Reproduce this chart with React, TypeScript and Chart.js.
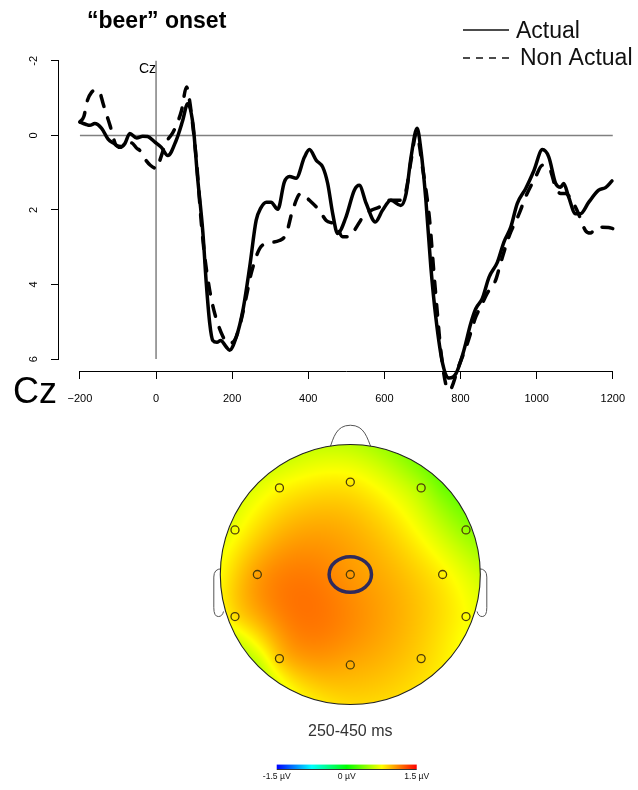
import React, { useEffect, useRef } from 'react';
import { Chart, registerables } from 'chart.js';

Chart.register(...registerables);
Chart.defaults.font.family = '"Liberation Sans", Arial, Helvetica, sans-serif';

// ---------------- ERP waveform data ----------------
const TITLE = '\u201cbeer\u201d onset';
const CHANNEL = 'Cz';
const SERIES_NAMES = ['Actual', 'Non Actual'];

const TIME_ACTUAL = [-200, -185, -174, -161, -143, -126, -110, -95, -82, -69, -51, -35, -22, -3, 14, 31, 53, 70, 83, 97, 109, 123, 132, 141, 149, 160, 170, 184, 193, 211, 228, 246, 263, 275, 290, 302, 320, 337, 351, 368, 390, 403, 421, 438, 451, 464, 477, 499, 521, 534, 552, 576, 595, 617, 643, 657, 670, 686, 696, 709, 722, 735, 753, 770, 788, 809, 827, 840, 857, 875, 897, 914, 932, 949, 971, 993, 1015, 1032, 1050, 1063, 1071, 1084, 1102, 1115, 1137, 1163, 1181, 1198];
const UV_ACTUAL = [-0.36, -0.3, -0.27, -0.32, -0.19, 0.1, 0.22, 0.32, 0.22, -0.05, 0.07, 0.02, 0.03, 0.18, 0.32, 0.54, 0.13, -0.4, -0.85, -0.3, 1.12, 2.6, 3.97, 5.04, 5.5, 5.55, 5.5, 5.67, 5.76, 5.4, 4.7, 3.53, 2.28, 1.95, 1.79, 1.79, 1.98, 1.25, 1.1, 1.15, 0.58, 0.38, 0.67, 0.85, 1.29, 2.09, 2.63, 2.19, 1.47, 1.34, 1.82, 2.32, 2.01, 1.74, 1.88, 1.56, 0.58, -0.19, 0.4, 1.74, 3.53, 4.87, 6.12, 6.51, 6.39, 5.76, 5.04, 4.65, 4.38, 3.8, 3.4, 2.86, 2.46, 1.83, 1.43, 0.94, 0.38, 0.58, 1.29, 1.39, 1.29, 1.65, 2.1, 2.1, 1.79, 1.47, 1.4, 1.22];

const TIME_NON_ACTUAL = [-200, -190, -180, -170, -158, -148, -139, -121, -104, -90, -82, -65, -50, -43, -30, -15, 3, 10, 27, 45, 67, 80, 88, 106, 119, 128, 141, 154, 176, 189, 206, 219, 237, 250, 272, 289, 324, 342, 359, 381, 403, 429, 447, 473, 490, 508, 521, 547, 565, 587, 613, 639, 657, 670, 684, 700, 718, 731, 740, 748, 761, 770, 796, 818, 840, 853, 870, 892, 905, 927, 954, 971, 997, 1015, 1032, 1050, 1063, 1076, 1097, 1110, 1128, 1141, 1159, 1189, 1200];
const UV_NON_ACTUAL = [-0.36, -0.5, -0.95, -1.15, -1.22, -1.16, -0.85, -0.27, 0.27, 0.3, 0.22, 0.2, 0.35, 0.4, 0.62, 0.8, 0.89, 0.67, 0.18, -0.09, -0.67, -1.3, -0.94, 0.67, 2.36, 3.26, 4.16, 4.77, 5.4, 5.58, 5.5, 5.14, 4.33, 3.7, 3.04, 2.9, 2.82, 2.64, 2.0, 1.55, 1.74, 2.01, 2.28, 2.41, 2.72, 2.72, 2.55, 2.14, 2.01, 1.92, 1.74, 1.74, 1.47, 0.67, -0.05, 0.85, 2.19, 3.8, 4.87, 5.76, 6.66, 6.84, 6.17, 5.58, 4.87, 4.6, 4.24, 3.89, 3.44, 2.72, 2.1, 1.65, 1.12, 0.8, 0.85, 1.39, 1.56, 1.56, 1.83, 2.1, 2.55, 2.62, 2.46, 2.47, 2.5];

const X_TICKS = [-200, 0, 200, 400, 600, 800, 1000, 1200];
const Y_TICKS = [-2, 0, 2, 4, 6];
const X_RANGE = [-255, 1200];
const Y_RANGE = [-2.56, 6.32];
const ONSET_MS = 0;
const BASELINE_UV = 0;

// ---------------- Topographic map data ----------------
const TIME_WINDOW = '250-450 ms';
const ELECTRODE_NAMES = ['Fz', 'F3', 'F4', 'F7', 'F8', 'C3', 'Cz', 'C4', 'T5', 'T6', 'P3', 'Pz', 'P4'];
const ELECTRODE_X = [0, -0.545, 0.545, -0.887, 0.89, -0.715, 0, 0.71, -0.887, 0.89, -0.545, 0, 0.545];
const ELECTRODE_Y = [0.726, 0.68, 0.68, 0.35, 0.35, 0, 0, 0, -0.33, -0.33, -0.66, -0.71, -0.66];
const ELECTRODE_UV = [0.8, 0.76, 0.55, 0.7, 0.42, 1.05, 1.04, 0.8, 0.9, 0.76, 1.0, 0.98, 0.88];
const RIM_ANGLES = [0, 30, 45, 60, 90, 120, 150, 180, 210, 225, 240, 270, 300, 330];
const RIM_UV = [0.6, 0.34, 0.26, 0.36, 0.55, 0.6, 0.66, 0.74, 0.6, 0.45, 0.72, 0.86, 0.84, 0.72];
const HIGHLIGHT = 'Cz';
const COLORBAR_TICKS = [-1.5, 0, 1.5];
const COLOR_STOPS: [number, number, number, number][] = [
  [0, 0, 0, 255],
  [0.25, 0, 255, 255],
  [0.5, 0, 255, 0],
  [0.75, 255, 255, 0],
  [1, 255, 0, 0],
];

function colorFor(v: number): [number, number, number] {
  const lo = COLORBAR_TICKS[0];
  const hi = COLORBAR_TICKS[COLORBAR_TICKS.length - 1];
  let t = (v - lo) / (hi - lo);
  t = Math.max(0, Math.min(1, t));
  for (let i = 0; i < COLOR_STOPS.length - 1; i++) {
    const a = COLOR_STOPS[i];
    const b = COLOR_STOPS[i + 1];
    if (t <= b[0]) {
      const f = (t - a[0]) / (b[0] - a[0]);
      return [a[1] + (b[1] - a[1]) * f, a[2] + (b[2] - a[2]) * f, a[3] + (b[3] - a[3]) * f];
    }
  }
  const l = COLOR_STOPS[COLOR_STOPS.length - 1];
  return [l[1], l[2], l[3]];
}

// smoothing thin-plate spline through the electrode and rim values
function buildField() {
  const px = [...ELECTRODE_X, ...RIM_ANGLES.map((a) => Math.cos((a * Math.PI) / 180))];
  const py = [...ELECTRODE_Y, ...RIM_ANGLES.map((a) => Math.sin((a * Math.PI) / 180))];
  const pv = [...ELECTRODE_UV, ...RIM_UV];
  const n = px.length;
  const m = n + 3;
  const U = (r2: number) => (r2 <= 1e-12 ? 0 : 0.5 * r2 * Math.log(r2));
  const A: number[][] = [];
  for (let i = 0; i < m; i++) A.push(new Array(m + 1).fill(0));
  for (let i = 0; i < n; i++) {
    for (let j = 0; j < n; j++) {
      const dx = px[i] - px[j];
      const dy = py[i] - py[j];
      A[i][j] = U(dx * dx + dy * dy) + (i === j ? 0.05 : 0);
    }
    A[i][n] = 1;
    A[i][n + 1] = px[i];
    A[i][n + 2] = py[i];
    A[n][i] = 1;
    A[n + 1][i] = px[i];
    A[n + 2][i] = py[i];
    A[i][m] = pv[i];
  }
  for (let c = 0; c < m; c++) {
    let piv = c;
    for (let r = c + 1; r < m; r++) if (Math.abs(A[r][c]) > Math.abs(A[piv][c])) piv = r;
    const tmp = A[c];
    A[c] = A[piv];
    A[piv] = tmp;
    const d = A[c][c];
    if (Math.abs(d) < 1e-14) continue;
    for (let r = 0; r < m; r++) {
      if (r === c) continue;
      const f = A[r][c] / d;
      if (f === 0) continue;
      for (let k = c; k <= m; k++) A[r][k] -= f * A[c][k];
    }
  }
  const w = A.map((row, i) => row[m] / row[i]);
  return (x: number, y: number) => {
    let s = w[n] + w[n + 1] * x + w[n + 2] * y;
    for (let i = 0; i < n; i++) {
      const dx = x - px[i];
      const dy = y - py[i];
      s += w[i] * U(dx * dx + dy * dy);
    }
    return s;
  };
}

const FONT = '"Liberation Sans", Arial, Helvetica, sans-serif';

function ErpChart() {
  const ref = useRef<HTMLCanvasElement>(null);
  useEffect(() => {
    if (!ref.current) return;
    const decor = {
      id: 'erpDecor',
      afterDraw(chart: any) {
        const { ctx, chartArea, scales } = chart;
        const x = scales.x;
        const y = scales.y;
        ctx.save();
        ctx.strokeStyle = '#000';
        ctx.lineWidth = 1;
        ctx.beginPath();
        const yb = Math.round(chartArea.bottom) + 0.5;
        ctx.moveTo(x.getPixelForValue(X_TICKS[0]), yb);
        ctx.lineTo(x.getPixelForValue(X_TICKS[X_TICKS.length - 1]), yb);
        const xl = Math.round(chartArea.left) - 0.5;
        ctx.moveTo(xl, y.getPixelForValue(Y_TICKS[0]));
        ctx.lineTo(xl, y.getPixelForValue(Y_TICKS[Y_TICKS.length - 1]));
        ctx.stroke();

        ctx.fillStyle = '#000';
        ctx.textBaseline = 'alphabetic';
        ctx.textAlign = 'left';
        ctx.font = `bold 23px ${FONT}`;
        ctx.fillText(TITLE, 87, 28);

        ctx.font = `14px ${FONT}`;
        ctx.textAlign = 'right';
        ctx.fillText(CHANNEL, x.getPixelForValue(ONSET_MS), y.getPixelForValue(Y_TICKS[0]) + 12);

        ctx.font = `36px ${FONT}`;
        ctx.textAlign = 'left';
        ctx.fillText(CHANNEL, 13, 403);

        // legend
        ctx.fillStyle = '#111';
        ctx.strokeStyle = '#111';
        ctx.lineWidth = 1.3;
        ctx.beginPath();
        ctx.moveTo(463, 30);
        ctx.lineTo(509, 30);
        ctx.stroke();
        ctx.setLineDash([7, 6]);
        ctx.beginPath();
        ctx.moveTo(463, 58);
        ctx.lineTo(511, 58);
        ctx.stroke();
        ctx.setLineDash([]);
        ctx.font = `23px ${FONT}`;
        ctx.fillText(SERIES_NAMES[0], 516, 37.5);
        ctx.fillText(SERIES_NAMES[1], 520, 64.5);
        ctx.restore();
      },
    };

    const chart = new Chart(ref.current, {
      type: 'line',
      data: {
        datasets: [
          {
            label: SERIES_NAMES[0],
            data: TIME_ACTUAL.map((t, i) => ({ x: t, y: UV_ACTUAL[i] })),
            borderColor: '#000',
            borderWidth: 3.5,
            pointRadius: 0,
            cubicInterpolationMode: 'monotone',
            borderCapStyle: 'round',
            borderJoinStyle: 'round',
            clip: false,
          },
          {
            label: SERIES_NAMES[1],
            data: TIME_NON_ACTUAL.map((t, i) => ({ x: t, y: UV_NON_ACTUAL[i] })),
            borderColor: '#000',
            borderWidth: 3.5,
            borderDash: [11, 12],
            pointRadius: 0,
            cubicInterpolationMode: 'monotone',
            borderCapStyle: 'round',
            borderJoinStyle: 'round',
            clip: false,
          },
          {
            label: 'baseline',
            data: [
              { x: X_TICKS[0], y: BASELINE_UV },
              { x: X_TICKS[X_TICKS.length - 1], y: BASELINE_UV },
            ],
            borderColor: '#808080',
            borderWidth: 1.5,
            pointRadius: 0,
            clip: false,
          },
          {
            label: 'onset',
            data: [
              { x: ONSET_MS, y: Y_TICKS[0] },
              { x: ONSET_MS, y: Y_TICKS[Y_TICKS.length - 1] },
            ],
            borderColor: '#808080',
            borderWidth: 1.5,
            pointRadius: 0,
            clip: false,
          },
        ],
      } as any,
      options: {
        animation: false,
        responsive: false,
        maintainAspectRatio: false,
        events: [],
        layout: { padding: { left: 0, right: 24, top: 40, bottom: 0 } },
        plugins: { legend: { display: false }, tooltip: { enabled: false }, title: { display: false } },
        scales: {
          x: {
            type: 'linear',
            min: X_RANGE[0],
            max: X_RANGE[1],
            afterBuildTicks: (axis: any) => {
              axis.ticks = X_TICKS.map((v) => ({ value: v }));
            },
            afterFit: (axis: any) => {
              axis.height = 39;
            },
            border: { display: false },
            grid: { display: true, drawOnChartArea: false, drawTicks: true, tickLength: 8, color: '#000', lineWidth: 1 },
            ticks: {
              autoSkip: false,
              maxRotation: 0,
              padding: 13,
              color: '#000',
              font: { size: 11 },
              callback: (v: any) => (Number(v) < 0 ? '\u2212' + Math.abs(Number(v)) : String(v)),
            },
          },
          y: {
            type: 'linear',
            reverse: true,
            min: Y_RANGE[0],
            max: Y_RANGE[1],
            afterBuildTicks: (axis: any) => {
              axis.ticks = Y_TICKS.map((v) => ({ value: v }));
            },
            afterFit: (axis: any) => {
              axis.width = 59;
            },
            border: { display: false },
            grid: { display: true, drawOnChartArea: false, drawTicks: true, tickLength: 8, color: '#000', lineWidth: 1 },
            ticks: {
              minRotation: 90,
              maxRotation: 90,
              crossAlign: 'center',
              padding: 12,
              color: '#000',
              font: { size: 11 },
              callback: (v: any) => String(v),
            },
          },
        },
      } as any,
      plugins: [decor],
    });
    return () => chart.destroy();
  }, []);
  return <canvas ref={ref} width={638} height={410} style={{ position: 'absolute', left: 0, top: 0, width: 638, height: 410 }} />;
}

function TopoChart() {
  const ref = useRef<HTMLCanvasElement>(null);
  useEffect(() => {
    if (!ref.current) return;
    const field = buildField();
    const topo = {
      id: 'topo',
      beforeDatasetsDraw(chart: any) {
        const { ctx, scales } = chart;
        const X = (v: number) => scales.x.getPixelForValue(v);
        const Y = (v: number) => scales.y.getPixelForValue(v);
        const cx = X(0);
        const cy = Y(0);
        const r = X(1) - cx;
        ctx.save();
        ctx.lineWidth = 1;
        ctx.strokeStyle = '#555';
        ctx.fillStyle = '#fff';
        // nose
        ctx.beginPath();
        ctx.moveTo(X(-0.16), Y(0.985));
        ctx.bezierCurveTo(X(-0.13), Y(1.07), X(-0.11), Y(1.172), X(0), Y(1.172));
        ctx.bezierCurveTo(X(0.11), Y(1.172), X(0.13), Y(1.07), X(0.165), Y(0.985));
        ctx.fill();
        ctx.stroke();
        // ears
        [-1, 1].forEach((s) => {
          ctx.beginPath();
          ctx.moveTo(X(s * 0.99), Y(0.045));
          ctx.quadraticCurveTo(X(s * 1.05), Y(0.045), X(s * 1.05), Y(-0.02));
          ctx.lineTo(X(s * 1.05), Y(-0.26));
          ctx.quadraticCurveTo(X(s * 1.05), Y(-0.33), X(s * 1.015), Y(-0.33));
          ctx.quadraticCurveTo(X(s * 0.985), Y(-0.33), X(s * 0.975), Y(-0.29));
          ctx.fill();
          ctx.stroke();
        });
        // field
        const size = Math.ceil(2 * r) + 4;
        const off = document.createElement('canvas');
        off.width = size;
        off.height = size;
        const octx = off.getContext('2d')!;
        const img = octx.createImageData(size, size);
        for (let py = 0; py < size; py++) {
          for (let px = 0; px < size; px++) {
            const nx = (px + 0.5 - size / 2) / r;
            const ny = -(py + 0.5 - size / 2) / r;
            if (nx * nx + ny * ny > 1.04) continue;
            const c = colorFor(field(nx, ny));
            const k = (py * size + px) * 4;
            img.data[k] = c[0];
            img.data[k + 1] = c[1];
            img.data[k + 2] = c[2];
            img.data[k + 3] = 255;
          }
        }
        octx.putImageData(img, 0, 0);
        ctx.beginPath();
        ctx.arc(cx, cy, r, 0, Math.PI * 2);
        ctx.save();
        ctx.clip();
        ctx.drawImage(off, cx - size / 2, cy - size / 2);
        ctx.restore();
        ctx.strokeStyle = '#222';
        ctx.lineWidth = 1.1;
        ctx.beginPath();
        ctx.arc(cx, cy, r, 0, Math.PI * 2);
        ctx.stroke();
        ctx.restore();
      },
      afterDatasetsDraw(chart: any) {
        const { ctx, scales } = chart;
        const X = (v: number) => scales.x.getPixelForValue(v);
        const Y = (v: number) => scales.y.getPixelForValue(v);
        const unit = X(1) - X(0);
        const hi = ELECTRODE_NAMES.indexOf(HIGHLIGHT);
        ctx.save();
        ctx.strokeStyle = '#2f2a5c';
        ctx.lineWidth = 3.5;
        ctx.beginPath();
        ctx.ellipse(X(ELECTRODE_X[hi]), Y(ELECTRODE_Y[hi]), 0.163 * unit, 0.137 * unit, 0, 0, Math.PI * 2);
        ctx.stroke();

        ctx.fillStyle = '#333';
        ctx.font = `16px ${FONT}`;
        ctx.textAlign = 'center';
        ctx.textBaseline = 'middle';
        ctx.fillText(TIME_WINDOW, X(0), Y(-1.235));

        // colour bar
        const x0 = X(-0.566);
        const x1 = X(0.511);
        const yt = Y(-1.492);
        const yb2 = Y(-1.527);
        const g = ctx.createLinearGradient(x0, 0, x1, 0);
        COLOR_STOPS.forEach((s) => g.addColorStop(s[0], `rgb(${s[1]},${s[2]},${s[3]})`));
        ctx.fillStyle = g;
        ctx.fillRect(x0, yt, x1 - x0, yb2 - yt);
        ctx.strokeStyle = '#333';
        ctx.lineWidth = 1;
        ctx.beginPath();
        ctx.moveTo(x0, Math.round(yb2) + 0.5);
        ctx.lineTo(x1, Math.round(yb2) + 0.5);
        ctx.stroke();
        ctx.fillStyle = '#111';
        ctx.font = `8.6px ${FONT}`;
        ctx.textBaseline = 'middle';
        const lo = COLORBAR_TICKS[0];
        const hiV = COLORBAR_TICKS[COLORBAR_TICKS.length - 1];
        COLORBAR_TICKS.forEach((v) => {
          const px = x0 + ((v - lo) / (hiV - lo)) * (x1 - x0);
          ctx.fillText(`${v} \u00b5V`, px, Y(-1.585));
        });
        ctx.restore();
      },
    };
    const chart = new Chart(ref.current, {
      type: 'scatter',
      data: {
        datasets: [
          {
            label: 'electrodes',
            data: ELECTRODE_X.map((x, i) => ({ x, y: ELECTRODE_Y[i] })),
            pointRadius: 4,
            pointBorderWidth: 1.3,
            pointBorderColor: '#4d3d0a',
            pointBackgroundColor: 'rgba(0,0,0,0)',
          },
        ],
      },
      options: {
        animation: false,
        responsive: false,
        maintainAspectRatio: false,
        events: [],
        layout: { padding: { left: 155.3, right: 92.7, top: 2.5, bottom: 0.5 } },
        plugins: { legend: { display: false }, tooltip: { enabled: false } },
        scales: {
          x: { type: 'linear', display: false, min: -1.5, max: 1.5 },
          y: { type: 'linear', display: false, min: -1.65, max: 1.25 },
        },
      } as any,
      plugins: [topo],
    });
    return () => chart.destroy();
  }, []);
  return <canvas ref={ref} width={638} height={380} style={{ position: 'absolute', left: 0, top: 410, width: 638, height: 380 }} />;
}

export default function App() {
  return (
    <div style={{ position: 'absolute', left: 0, top: 0, width: 638, height: 790, background: '#fff', overflow: 'hidden' }}>
      <ErpChart />
      <TopoChart />
    </div>
  );
}
